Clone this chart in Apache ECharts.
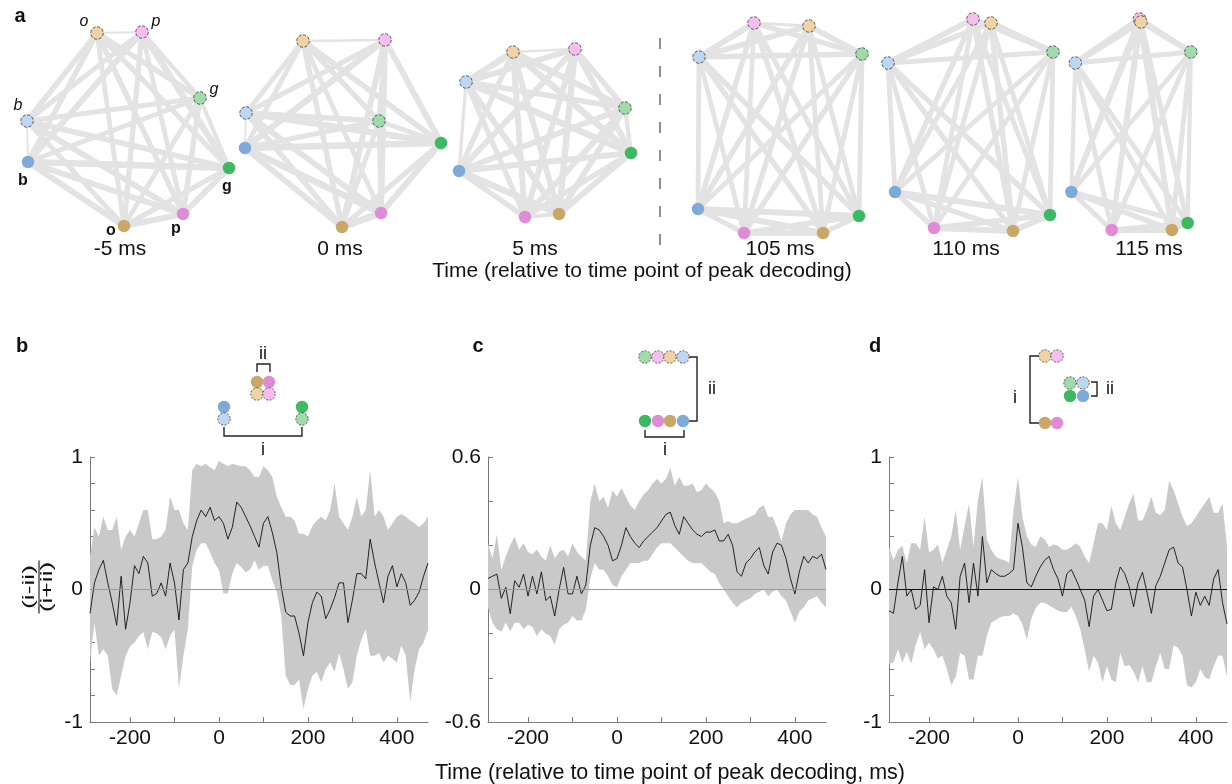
<!DOCTYPE html>
<html>
<head>
<meta charset="utf-8">
<script src="https://cdn.jsdelivr.net/npm/echarts@6/dist/echarts.min.js"></script>
<style>
  html, body { margin: 0; padding: 0; background: #fff; }
  #main { width: 1232px; height: 784px; }
</style>
</head>
<body>
<div id="main"></div>
<script>
// ---- panel a: network layouts (node order: b, g, o, p, b', g', p', o') ----
const netLabels = ['-5 ms', '0 ms', '5 ms', '105 ms', '110 ms', '115 ms'];
const netM5  = [[28,162],[229,168],[124,226],[183,214],[27,121],[200,98],[142,32],[97,33]];
const net0   = [[15,148],[211,143],[112,227],[151,213],[16,113],[149,121],[155,40],[73,41]];
const net5   = [[19,171],[191,153],[119,214],[85,217],[26,82],[185,108],[135,49],[73,52]];
const net105 = [[18,209],[179,216],[143,233],[64,233],[19,57],[182,54],[74,23],[129,26]];
const net110 = [[25,192],[180,215],[143,231],[64,228],[18,63],[183,52],[103,19],[121,23]];
const net115 = [[27,192],[174,223],[154,230],[78,230],[32,63],[178,52],[113,19],[115,22]];

// edge weights, pair order (0,1),(0,2)...(6,7)
const wM5  = [0.9,0.8,0.8,0.05,0.6,0.8,0.7, 0.7,0.8,0.8,0.5,0.9,0.7, 0.8,0.6,0.6,0.7,0.6, 0.8,0.7,0.6,0.7, 0.6,0.6,0.7, 0.5,0.7, 0.1];
const w0   = [0.9,0.8,0.9,0.05,0.7,0.9,0.6, 0.7,0.8,0.9,0.6,0.8,0.8, 1.0,0.7,0.6,0.8,0.7, 0.8,0.6,0.8,0.6, 0.7,0.7,0.6, 0.6,0.7, 0.15];
const w5   = [0.8,0.9,0.7,0.3,0.8,0.8,0.7, 0.8,0.7,0.9,0.5,0.8,0.9, 0.5,0.8,0.8,0.9,0.8, 0.7,0.8,0.8,0.8, 0.7,0.8,0.9, 0.7,0.8, 0.15];
const w105 = [0.8,0.8,0.7,0.6,0.6,0.7,0.7, 0.6,0.7,0.7,0.6,0.6,0.6, 0.8,0.7,0.6,0.7,0.6, 0.6,0.7,0.6,0.7, 0.7,0.8,0.8, 0.7,0.8, 0.25];
const w110 = [0.8,0.7,0.7,0.6,0.6,0.7,0.6, 0.8,0.7,0.7,0.6,0.6,0.6, 0.8,0.7,0.6,0.7,0.7, 0.6,0.6,0.6,0.6, 0.6,0.8,0.7, 0.7,0.8, 0.3];
const w115 = [0.7,0.7,0.6,0.5,0.6,0.7,0.6, 0.7,0.6,0.6,0.5,0.6,0.6, 0.8,0.6,0.6,0.7,0.7, 0.6,0.6,0.6,0.6, 0.6,0.8,0.8, 0.7,0.8, 0.3];

// ---- panels b-d: time courses ----
const times = [-290,-280,-270,-260,-250,-240,-230,-220,-210,-200,
  -190,-180,-170,-160,-150,-140,-130,-120,-110,-100,
  -90,-80,-70,-60,-50,-40,-30,-20,-10,0,
  10,20,30,40,50,60,70,80,90,100,
  110,120,130,140,150,160,170,180,190,200,
  210,220,230,240,250,260,270,280,290,300,
  310,320,330,340,350,360,370,380,390,400,
  410,420,430,440,450,460,470];

const meanB = [-0.18,0.05,0.15,0.22,0.05,-0.10,-0.27,0.10,-0.30,-0.10,
  0.18,0.12,0.25,0.20,-0.05,-0.03,0.05,-0.05,0.20,0.05,
  -0.23,0.15,0.20,0.40,0.52,0.60,0.55,0.62,0.52,0.55,
  0.50,0.38,0.47,0.66,0.62,0.55,0.48,0.40,0.32,0.50,
  0.55,0.43,0.28,0.02,-0.17,-0.20,-0.20,-0.33,-0.50,-0.25,
  -0.10,-0.02,-0.05,-0.22,-0.15,-0.06,0.05,0.05,-0.25,-0.08,
  0.12,0.12,0.08,0.38,0.20,0.05,-0.10,0.10,0.18,0.02,
  0.12,0.05,-0.12,-0.08,-0.02,0.10,0.20];
const upperB = [0.25,0.47,0.40,0.55,0.45,0.45,0.55,0.30,0.40,0.45,
  0.40,0.50,0.60,0.60,0.38,0.38,0.40,0.45,0.70,0.60,
  0.60,0.50,0.45,0.90,0.95,0.93,0.95,0.92,0.90,0.97,
  0.95,0.93,0.95,0.94,0.93,0.93,0.90,0.85,0.85,0.93,
  0.90,0.85,0.70,0.62,0.55,0.55,0.52,0.42,0.42,0.40,
  0.48,0.52,0.55,0.52,0.60,0.80,0.55,0.50,0.45,0.55,
  0.70,0.55,0.60,0.90,0.55,0.60,0.55,0.45,0.50,0.55,
  0.57,0.55,0.52,0.50,0.47,0.50,0.55];
const lowerB = [-0.55,-0.25,-0.50,-0.45,-0.50,-0.75,-0.80,-0.65,-0.50,-0.43,
  -0.40,-0.35,-0.32,-0.45,-0.32,-0.33,-0.36,-0.45,-0.35,-0.30,
  -0.75,-0.50,-0.30,0.18,0.30,0.35,0.35,0.28,0.20,0.15,
  -0.03,-0.03,0.12,0.20,0.17,0.13,0.15,0.22,0.15,0.18,
  0.18,0.07,-0.02,-0.20,-0.65,-0.72,-0.72,-0.68,-0.90,-0.75,
  -0.65,-0.62,-0.70,-0.60,-0.55,-0.62,-0.48,-0.60,-0.75,-0.70,
  -0.50,-0.38,-0.30,-0.50,-0.50,-0.48,-0.55,-0.50,-0.52,-0.55,
  -0.42,-0.50,-0.85,-0.60,-0.45,-0.40,-0.30];

const meanC = [0.05,0.06,0.07,-0.04,0.01,-0.11,0.04,0.01,0.07,-0.03,
  0.06,-0.02,0.08,-0.05,-0.03,-0.12,0.00,0.10,-0.02,-0.02,
  0.06,-0.02,0.02,0.20,0.28,0.27,0.24,0.20,0.13,0.14,
  0.20,0.28,0.24,0.21,0.19,0.22,0.24,0.26,0.28,0.31,
  0.34,0.35,0.29,0.25,0.33,0.30,0.27,0.25,0.24,0.26,
  0.26,0.27,0.22,0.22,0.25,0.20,0.08,0.06,0.12,0.14,
  0.17,0.19,0.11,0.07,0.17,0.21,0.20,0.14,0.05,-0.02,
  0.08,0.15,0.12,0.15,0.14,0.16,0.09];
const upperC = [0.21,0.14,0.25,0.09,0.15,0.20,0.24,0.18,0.21,0.17,
  0.16,0.18,0.15,0.13,0.20,0.14,0.17,0.18,0.15,0.21,
  0.17,0.15,0.13,0.40,0.48,0.40,0.42,0.37,0.45,0.42,
  0.46,0.42,0.38,0.36,0.40,0.43,0.45,0.48,0.50,0.48,
  0.50,0.55,0.47,0.51,0.47,0.47,0.48,0.44,0.45,0.48,
  0.46,0.44,0.40,0.30,0.31,0.30,0.30,0.31,0.32,0.33,
  0.34,0.37,0.38,0.33,0.33,0.28,0.22,0.30,0.34,0.36,
  0.36,0.36,0.36,0.34,0.33,0.28,0.24];
const lowerC = [-0.08,-0.15,-0.18,-0.19,-0.15,-0.19,-0.15,-0.15,-0.18,-0.16,
  -0.17,-0.21,-0.18,-0.20,-0.21,-0.25,-0.18,-0.16,-0.15,-0.12,
  -0.14,-0.14,-0.09,0.05,0.12,0.09,0.09,0.06,0.02,0.01,
  0.06,0.09,0.12,0.12,0.12,0.13,0.13,0.16,0.19,0.21,
  0.21,0.21,0.19,0.17,0.15,0.13,0.12,0.12,0.12,0.10,
  0.08,0.07,0.03,0.00,-0.03,-0.06,-0.08,-0.06,-0.05,-0.04,
  -0.02,-0.01,0.00,-0.03,-0.01,0.00,-0.03,-0.05,-0.10,-0.15,
  -0.10,-0.08,-0.05,-0.04,-0.03,-0.06,-0.08];

const meanD = [-0.16,-0.18,0.05,0.25,-0.05,0.00,-0.15,-0.12,0.15,-0.25,
  0.02,0.00,0.10,-0.05,-0.10,-0.30,0.10,0.20,-0.10,0.20,
  -0.05,0.40,0.05,0.15,0.12,0.10,0.10,0.12,0.15,0.50,
  0.32,0.05,0.02,0.10,0.17,0.22,0.25,0.15,0.08,-0.05,
  0.12,0.15,0.08,0.00,-0.08,-0.28,-0.05,0.00,-0.08,-0.16,
  -0.15,0.05,0.17,0.12,0.02,-0.13,0.05,0.13,-0.02,-0.18,
  0.03,0.10,0.20,0.30,0.32,0.20,0.17,0.00,-0.20,-0.02,
  -0.12,-0.05,-0.12,0.08,0.15,-0.10,-0.26];
const upperD = [0.32,0.22,0.30,0.33,0.20,0.35,0.35,0.30,0.55,0.28,
  0.30,0.34,0.20,0.30,0.40,0.60,0.30,0.48,0.65,0.32,
  0.68,0.85,0.38,0.30,0.25,0.23,0.22,0.20,0.60,0.85,
  0.55,0.40,0.34,0.32,0.40,0.38,0.32,0.34,0.33,0.30,
  0.30,0.32,0.35,0.32,0.25,0.20,0.35,0.50,0.50,0.45,
  0.63,0.50,0.45,0.55,0.65,0.72,0.52,0.52,0.60,0.70,
  0.58,0.56,0.60,0.82,0.75,0.65,0.55,0.48,0.50,0.55,
  0.60,0.65,0.70,0.58,0.58,0.65,0.32];
const lowerD = [-0.56,-0.55,-0.45,-0.55,-0.47,-0.56,-0.42,-0.32,-0.45,-0.40,
  -0.45,-0.52,-0.50,-0.60,-0.72,-0.66,-0.48,-0.50,-0.68,-0.68,
  -0.50,-0.50,-0.35,-0.25,-0.23,-0.21,-0.20,-0.20,-0.18,-0.20,
  -0.26,-0.38,-0.22,-0.14,-0.10,-0.10,-0.12,-0.14,-0.16,-0.17,
  -0.17,-0.13,-0.20,-0.30,-0.45,-0.62,-0.50,-0.55,-0.70,-0.58,
  -0.68,-0.70,-0.48,-0.58,-0.57,-0.62,-0.70,-0.58,-0.70,-0.70,
  -0.58,-0.48,-0.60,-0.60,-0.42,-0.44,-0.50,-0.72,-0.74,-0.70,
  -0.60,-0.66,-0.68,-0.58,-0.50,-0.50,-0.66];

const xTicks = [-200, -100, 0, 100, 200, 300, 400];
const xTickLabels = [-200, 0, 200, 400];
const yTicksB = [-1, -0.8, -0.6, -0.4, -0.2, 0, 0.2, 0.4, 0.6, 0.8, 1];
const yTicksC = [-0.6, -0.4, -0.2, 0, 0.2, 0.4, 0.6];

// ---- styling ----
const FONT = '"Liberation Sans", Arial, sans-serif';
const nodeKeys = ['b', 'g', 'o', 'p', 'b', 'g', 'p', 'o'];
const nodeFilled = [true, true, true, true, false, false, false, false];
const fillColor = { b: '#7eaad9', g: '#3db964', o: '#c9a765', p: '#df8bd8' };
const lightColor = { b: '#bdd7f3', g: '#9edcaa', o: '#f0d3a3', p: '#f6bdf0' };
const m5LabelOffset = [[-5,19],[-2,19],[-13,5],[-7,15],[-9,-15],[14,-8],[14,-10],[-13,-11]];

function nodeStyle(i) {
  const k = nodeKeys[i];
  if (nodeFilled[i]) return { color: fillColor[k], borderWidth: 0 };
  return { color: lightColor[k], borderColor: '#3a3a3a', borderWidth: 0.8, borderType: 'dashed' };
}

const pairs = [];
for (let i = 0; i < 8; i++) for (let j = i + 1; j < 8; j++) pairs.push([i, j]);

const networks = [netM5, net0, net5, net105, net110, net115];
const netWeights = [wM5, w0, w5, w105, w110, w115];
const netLeft = [0, 230, 440, 680, 870, 1050];
const netLabelX = [120, 340, 535, 780, 966, 1149];

const grids = [], xAxes = [], yAxes = [], series = [];

networks.forEach((layout, k) => {
  grids.push({ left: netLeft[k], top: 0, width: 230, height: 260 });
  xAxes.push({ gridIndex: k, type: 'value', show: false, min: 0, max: 230 });
  yAxes.push({ gridIndex: k, type: 'value', show: false, min: 0, max: 260, inverse: true });
  series.push({
    type: 'graph',
    coordinateSystem: 'cartesian2d',
    xAxisIndex: k, yAxisIndex: k,
    symbolSize: 12.5,
    silent: true,
    lineStyle: { color: '#e3e3e3', opacity: 1, curveness: 0, width: 4 },
    data: layout.map((pt, i) => ({
      name: 'n' + i,
      value: pt,
      itemStyle: nodeStyle(i),
      label: k === 0 ? {
        show: true, position: 'inside', offset: m5LabelOffset[i],
        formatter: nodeKeys[i], color: '#111', fontSize: 16, fontFamily: FONT,
        fontStyle: nodeFilled[i] ? 'normal' : 'italic',
        fontWeight: nodeFilled[i] ? 'bold' : 'normal'
      } : { show: false }
    })),
    links: pairs.map((pr, e) => ({
      source: pr[0], target: pr[1],
      lineStyle: { width: 1.5 + 5.5 * netWeights[k][e], color: '#e3e3e3', opacity: 1 }
    }))
  });
});

const panels = [
  { left: 90,  mean: meanB, upper: upperB, lower: lowerB, min: -1,   max: 1,   ticks: yTicksB, labels: [-1, 0, 1],     zero: '#9a9a9a' },
  { left: 488, mean: meanC, upper: upperC, lower: lowerC, min: -0.6, max: 0.6, ticks: yTicksC, labels: [-0.6, 0, 0.6], zero: '#9a9a9a' },
  { left: 889, mean: meanD, upper: upperD, lower: lowerD, min: -1,   max: 1,   ticks: yTicksB, labels: [-1, 0, 1],     zero: '#111' }
];

// band: one polygon, upper edge left->right then lower edge right->left
function bandItem(params, api) {
  if (params.dataIndexInside !== 0) return null;
  const n = params.dataInsideLength;
  const pts = [];
  for (let i = 0; i < n; i++) pts.push(api.coord([api.value(0, i), api.value(2, i)]));
  for (let i = n - 1; i >= 0; i--) pts.push(api.coord([api.value(0, i), api.value(1, i)]));
  return { type: 'polygon', shape: { points: pts }, style: { fill: '#c9c9c9' } };
}

const axisColor = '#7a7a7a';
const TICK_FONT = 21;
panels.forEach((p, n) => {
  const g = 6 + n;
  grids.push({ left: p.left, top: 457, width: 338, height: 265 });
  xAxes.push({
    gridIndex: g, type: 'value', min: -290, max: 470,
    axisLine: { show: true, onZero: false, lineStyle: { color: axisColor, width: 1 } },
    axisTick: { show: true, inside: true, length: 5, customValues: xTicks, lineStyle: { color: axisColor } },
    axisLabel: { customValues: xTickLabels, color: '#111', fontSize: TICK_FONT, fontFamily: FONT, margin: 6 },
    splitLine: { show: false }
  });
  yAxes.push({
    gridIndex: g, type: 'value', min: p.min, max: p.max,
    axisLine: { show: true, onZero: false, lineStyle: { color: axisColor, width: 1 } },
    axisTick: { show: true, inside: true, length: 5, customValues: p.ticks, lineStyle: { color: axisColor } },
    axisLabel: { customValues: p.labels, color: '#111', fontSize: TICK_FONT, fontFamily: FONT, margin: 7 },
    splitLine: { show: false }
  });
  series.push({
    type: 'custom', xAxisIndex: g, yAxisIndex: g, silent: true, z: 1,
    renderItem: bandItem,
    encode: { x: 0, y: [1, 2] },
    data: times.map((t, i) => [t, p.lower[i], p.upper[i]])
  });
  series.push({
    type: 'line', xAxisIndex: g, yAxisIndex: g,
    data: times.map((t, i) => [t, p.mean[i]]),
    symbol: 'none', silent: true, z: 4,
    lineStyle: { color: '#111', width: 0.9 },
    markLine: {
      silent: true, symbol: 'none', label: { show: false },
      lineStyle: { color: p.zero, width: 1, type: 'solid' },
      data: [{ yAxis: 0 }]
    }
  });
});

// ---- annotations ----
function txt(text, x, y, size, extra) {
  return { type: 'text', silent: true, style: Object.assign({
    text: text, x: x, y: y, fontSize: size, fontFamily: FONT, fill: '#111',
    align: 'center', verticalAlign: 'middle'
  }, extra || {}) };
}
function dot(x, y, k, filled) {
  return { type: 'circle', silent: true, shape: { cx: x, cy: y, r: 6.2 },
    style: filled ? { fill: fillColor[k] }
                  : { fill: lightColor[k], stroke: '#3a3a3a', lineWidth: 0.8, lineDash: [2, 1.5] } };
}
function bracket(points) {
  return { type: 'polyline', silent: true, shape: { points: points },
    style: { stroke: '#222', lineWidth: 1.4, fill: null } };
}

const graphics = [
  txt('a', 20, 16, 20, { fontWeight: 'bold' }),
  txt('b', 22, 346, 20, { fontWeight: 'bold' }),
  txt('c', 478, 346, 20, { fontWeight: 'bold' }),
  txt('d', 875, 346, 20, { fontWeight: 'bold' }),
  txt('Time (relative to time point of peak decoding)', 642, 271, 21),
  txt('Time (relative to time point of peak decoding, ms)', 670, 773, 21.5),
  { type: 'line', silent: true, shape: { x1: 660, y1: 38, x2: 660, y2: 248 },
    style: { stroke: '#6a6a6a', lineWidth: 1.5, lineDash: [11, 17] } },
  // y-axis title: stretched fraction, rotated
  { type: 'group', x: 39, y: 587, rotation: Math.PI / 2, scaleX: 1.65, scaleY: 1, children: [
    txt('(i-ii)', 0, -1, 16, { verticalAlign: 'bottom' }),
    { type: 'line', silent: true, shape: { x1: -16, y1: 0, x2: 16, y2: 0 }, style: { stroke: '#111', lineWidth: 1.1 } },
    txt('(i+ii)', 0, 1, 16, { verticalAlign: 'top' })
  ] },
  // panel b inset
  bracket([[257, 372], [257, 364], [270, 364], [270, 372]]),
  txt('ii', 263, 354, 18),
  bracket([[224, 427], [224, 436], [302, 436], [302, 427]]),
  txt('i', 263, 450, 18),
  dot(257, 382, 'o', true), dot(269, 382, 'p', true),
  dot(257, 394, 'o', false), dot(269, 394, 'p', false),
  dot(224, 407, 'b', true), dot(224, 419, 'b', false),
  dot(302, 407, 'g', true), dot(302, 419, 'g', false),
  // panel c inset
  bracket([[689, 357], [697, 357], [697, 421], [689, 421]]),
  txt('ii', 712, 389, 18),
  bracket([[645, 430], [645, 437], [684, 437], [684, 430]]),
  txt('i', 665, 450, 18),
  dot(645, 357, 'g', false), dot(658, 357, 'p', false), dot(670, 357, 'o', false), dot(683, 357, 'b', false),
  dot(645, 421, 'g', true), dot(658, 421, 'p', true), dot(670, 421, 'o', true), dot(683, 421, 'b', true),
  // panel d inset
  bracket([[1039, 356], [1030, 356], [1030, 423], [1039, 423]]),
  txt('i', 1015, 398, 18),
  bracket([[1091, 382], [1097, 382], [1097, 396], [1091, 396]]),
  txt('ii', 1110, 389, 18),
  dot(1045, 356, 'o', false), dot(1057, 356, 'p', false),
  dot(1045, 423, 'o', true), dot(1057, 423, 'p', true),
  dot(1070, 383, 'g', false), dot(1083, 383, 'b', false),
  dot(1070, 396, 'g', true), dot(1083, 396, 'b', true)
];
netLabels.forEach((s, k) => graphics.push(txt(s, netLabelX[k], 249, 21)));

const myChart = echarts.init(document.getElementById('main'));
myChart.setOption({
  animation: false,
  backgroundColor: '#fff',
  grid: grids,
  xAxis: xAxes,
  yAxis: yAxes,
  series: series,
  graphic: graphics
});
</script>
</body>
</html>
